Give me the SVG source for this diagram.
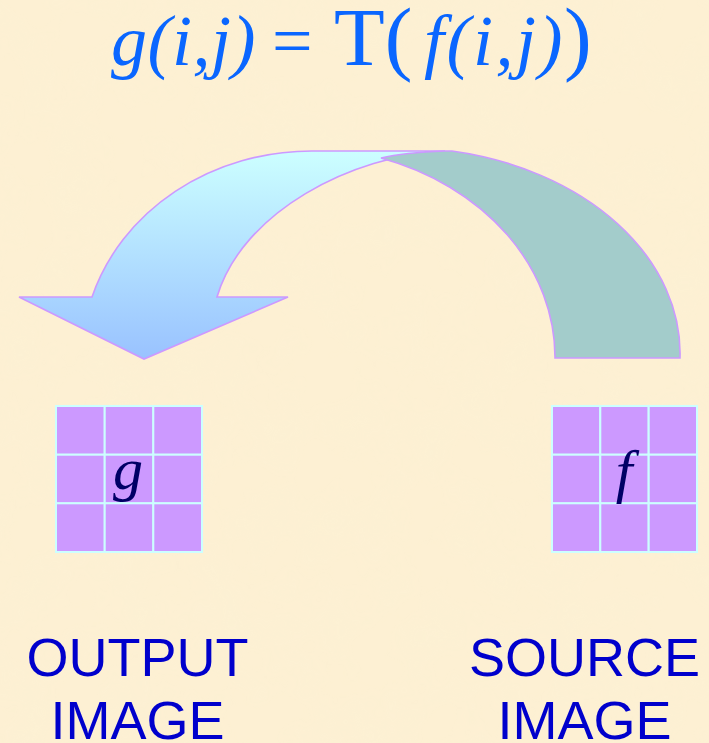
<svg xmlns="http://www.w3.org/2000/svg" width="709" height="743" viewBox="0 0 709 743">
  <defs>
    <style>
      .title { fill: #0a66ff; font-family: "Liberation Serif", "Times New Roman", serif; }
      .it { font-style: italic; }
      .cell { fill: #cc99ff; stroke: #ccffff; stroke-width: 2; }
      .var { fill: #000066; font-family: "Liberation Serif", "Times New Roman", serif; font-style: italic; font-size: 60px; text-anchor: middle; }
      .label { fill: #0000cc; font-family: "Liberation Sans", Arial, sans-serif; font-size: 54px; text-anchor: middle; }
      .arrowpart { stroke: #cc99ff; stroke-width: 1.6; stroke-linejoin: miter; }
    </style>
    <linearGradient id="lightGrad" x1="0" y1="151" x2="0" y2="359" gradientUnits="userSpaceOnUse">
      <stop offset="0" stop-color="#ccffff"/>
      <stop offset="1" stop-color="#99c2ff"/>
    </linearGradient>
    <filter id="paper" x="0" y="0" width="100%" height="100%">
      <feTurbulence type="fractalNoise" baseFrequency="0.02" numOctaves="3" seed="7" result="n"/>
      <feColorMatrix in="n" type="matrix" values="0 0 0 0 0.96  0 0 0 0 0.88  0 0 0 0 0.66  0 0 0 -1.6 1.0" />
    </filter>
  </defs>

  <rect width="709" height="743" fill="#fdf0d3"/>
  <rect width="709" height="743" filter="url(#paper)" opacity="0.4"/>

  <g id="title">
    <text class="title" y="65" font-size="72">
      <tspan class="it" x="111" letter-spacing="0.5">g(i,j)</tspan>
      <tspan x="272">=</tspan>
      <tspan x="334" font-size="83">T(</tspan>
      <tspan class="it" x="424" letter-spacing="2.5">f(i,j)</tspan>
      <tspan x="564" font-size="83">)</tspan>
    </text>
  </g>

  <g id="connectors">
    <path class="arrowpart" fill="url(#lightGrad)" d="M312,151 L445,151 C352,155 242,212 217,297 L288,297 L144,359 L19,297 L92,297 A230 207 0 0 1 312,151 Z"/>
    <path class="arrowpart" fill="#a3cccb" d="M445,151 L452,151 A280 206 0 0 1 680,358 L555,358 A255 210 0 0 0 381,158 C398,154 420,152 445,151 Z"/>
  </g>

  <g id="output-image">
    <rect class="cell" x="56" y="406" width="48.7" height="48.7"/>
    <rect class="cell" x="104.7" y="406" width="48.7" height="48.7"/>
    <rect class="cell" x="153.3" y="406" width="48.7" height="48.7"/>
    <rect class="cell" x="56" y="454.7" width="48.7" height="48.7"/>
    <rect class="cell" x="104.7" y="454.7" width="48.7" height="48.7"/>
    <rect class="cell" x="153.3" y="454.7" width="48.7" height="48.7"/>
    <rect class="cell" x="56" y="503.3" width="48.7" height="48.7"/>
    <rect class="cell" x="104.7" y="503.3" width="48.7" height="48.7"/>
    <rect class="cell" x="153.3" y="503.3" width="48.7" height="48.7"/>
    <text class="var" x="128" y="489">g</text>
    <text class="label" x="137.5" y="676">OUTPUT</text>
    <text class="label" x="137.5" y="739">IMAGE</text>
  </g>

  <g id="source-image">
    <rect class="cell" x="552" y="406" width="48.3" height="48.7"/>
    <rect class="cell" x="600.3" y="406" width="48.3" height="48.7"/>
    <rect class="cell" x="648.7" y="406" width="48.3" height="48.7"/>
    <rect class="cell" x="552" y="454.7" width="48.3" height="48.7"/>
    <rect class="cell" x="600.3" y="454.7" width="48.3" height="48.7"/>
    <rect class="cell" x="648.7" y="454.7" width="48.3" height="48.7"/>
    <rect class="cell" x="552" y="503.3" width="48.3" height="48.7"/>
    <rect class="cell" x="600.3" y="503.3" width="48.3" height="48.7"/>
    <rect class="cell" x="648.7" y="503.3" width="48.3" height="48.7"/>
    <text class="var" x="624" y="491">f</text>
    <text class="label" x="584.5" y="676">SOURCE</text>
    <text class="label" x="584.5" y="739">IMAGE</text>
  </g>
</svg>
